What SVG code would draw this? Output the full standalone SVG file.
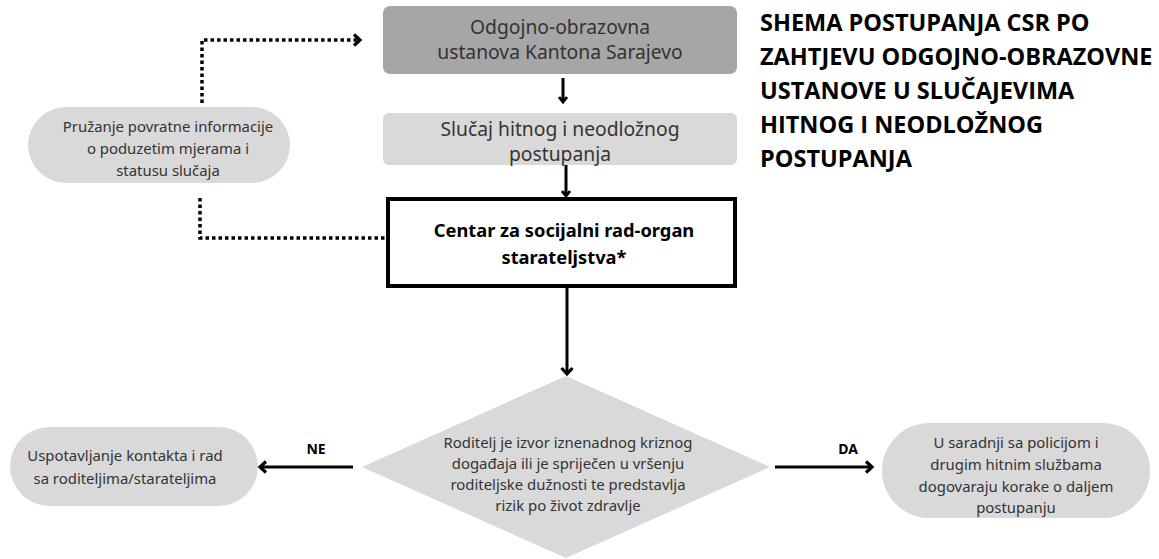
<svg xmlns="http://www.w3.org/2000/svg" width="1159" height="559" viewBox="0 0 1159 559">
<defs>
<marker id="chev" markerWidth="10" markerHeight="10" refX="7" refY="5" orient="auto" markerUnits="userSpaceOnUse">
<path d="M2,1 L7,5 L2,9" fill="none" stroke="#000" stroke-width="2.8"/>
</marker>
<marker id="chevs" markerWidth="12" markerHeight="14" refX="9" refY="7" orient="auto" markerUnits="userSpaceOnUse">
<path d="M3,1.5 L9,7 L3,12.5" fill="none" stroke="#000" stroke-width="3.2"/>
</marker>
<style>
.t{font-family:"Noto Sans","Open Sans",sans-serif;fill:#333;text-anchor:middle}
.big{font-size:19.3px}
.sm{font-size:14.9px}
.b{font-family:"Noto Sans","Open Sans",sans-serif;font-weight:bold;fill:#000;text-anchor:middle}
.title{font-family:"Open Sans","Liberation Sans",sans-serif;font-weight:bold;font-size:23.5px;fill:#000}
.line{fill:none;stroke:#000;stroke-width:3}
.dot{fill:none;stroke:#000;stroke-width:3.5;stroke-dasharray:3.5 3}
.gray{fill:#d9d9d9}
</style>
</defs>
<rect width="1159" height="559" fill="#fff"/>

<g id="connectors">
<path class="line" d="M563,78 V102" marker-end="url(#chev)"/>
<path class="line" d="M566,160 V196" marker-end="url(#chev)"/>
<path class="line" d="M567,288 V374" marker-end="url(#chevs)"/>
<path class="line" d="M353,467 H260" marker-end="url(#chevs)"/>
<path class="line" d="M775,467 H872" marker-end="url(#chevs)"/>
<path class="dot" d="M202,103 V40 H360" marker-end="url(#chevs)"/>
<path class="dot" d="M200,198 V238 H385"/>
<text class="b" x="316" y="454" font-size="14">NE</text>
<text class="b" x="848" y="454" font-size="14">DA</text>
</g>

<g id="node-ustanova">
<rect x="383" y="6" width="354" height="68" rx="7" fill="#a6a6a6"/>
<text class="t big" x="560" y="34">Odgojno-obrazovna</text>
<text class="t big" x="560" y="59">ustanova Kantona Sarajevo</text>
</g>

<g id="node-slucaj">
<rect x="383" y="113" width="354" height="52" rx="6" class="gray"/>
<text class="t big" x="560" y="136">Slučaj hitnog i neodložnog</text>
<text class="t big" x="560" y="161">postupanja</text>
</g>

<g id="node-csr">
<rect x="388" y="199" width="347" height="87" fill="#fff" stroke="#000" stroke-width="4"/>
<text class="b" x="564" y="237" font-size="18.3">Centar za socijalni rad-organ</text>
<text class="b" x="564" y="264" font-size="18.3">starateljstva*</text>
</g>

<g id="node-povratna">
<rect x="28" y="107" width="262" height="76" rx="38" class="gray"/>
<text class="t sm" x="168" y="132">Pružanje povratne informacije</text>
<text class="t sm" x="168" y="154">o poduzetim mjerama i</text>
<text class="t sm" x="168" y="176">statusu slučaja</text>
</g>

<g id="node-odluka">
<polygon points="566,376 770,467 566,558 362,467" class="gray"/>
<text class="t sm" x="568" y="448">Roditelj je izvor iznenadnog kriznog</text>
<text class="t sm" x="568" y="469">događaja ili je spriječen u vršenju</text>
<text class="t sm" x="568" y="490">roditeljske dužnosti te predstavlja</text>
<text class="t sm" x="568" y="511">rizik po život zdravlje</text>
</g>

<g id="node-ne">
<rect x="10" y="427" width="248" height="79" rx="39.5" class="gray"/>
<text class="t sm" x="125" y="461">Uspotavljanje kontakta i rad</text>
<text class="t sm" x="125" y="484">sa roditeljima/starateljima</text>
</g>

<g id="node-da">
<rect x="882" y="423" width="268" height="95" rx="47.5" class="gray"/>
<text class="t sm" x="1016" y="448" font-size="15.5px">U saradnji sa policijom i</text>
<text class="t sm" x="1016" y="470" font-size="15.5px">drugim hitnim službama</text>
<text class="t sm" x="1016" y="492" font-size="15.5px">dogovaraju korake o daljem</text>
<text class="t sm" x="1016" y="513" font-size="15.5px">postupanju</text>
</g>

<g id="title">
<text class="title" x="760" y="31">SHEMA POSTUPANJA CSR PO</text>
<text class="title" x="760" y="65">ZAHTJEVU ODGOJNO-OBRAZOVNE</text>
<text class="title" x="760" y="99">USTANOVE U SLUČAJEVIMA</text>
<text class="title" x="760" y="133">HITNOG I NEODLOŽNOG</text>
<text class="title" x="760" y="167">POSTUPANJA</text>
</g>
</svg>
